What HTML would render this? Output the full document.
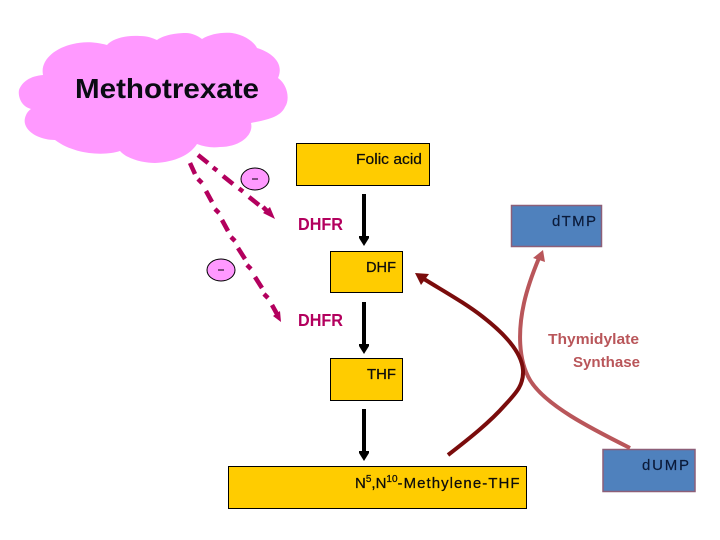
<!DOCTYPE html>
<html>
<head>
<meta charset="utf-8">
<style>
html,body{margin:0;padding:0;background:#fff;width:720px;height:540px;overflow:hidden}
svg{display:block}
text{font-family:"Liberation Sans",sans-serif}
</style>
</head>
<body>
<svg width="720" height="540" viewBox="0 0 720 540" xmlns="http://www.w3.org/2000/svg">
<path fill="#ff99ff" d="M43,75 C40,60 55,48 73,44 C82,42 92,41 107,45 C113,38 127,35 140,36 C148,36 152,38 157,40 C165,34 180,33 186,33 C192,33 198,36 202,39 C210,34 222,32 232,33 C245,35 254,42 257,48 C270,52 285,62 278,78 C288,85 290,100 285,107 C280,118 265,120 251,123 C254,135 240,147 220,147 C212,148 205,147 197,144 C190,155 175,162 155,163 C145,163 128,160 120,151 C105,156 75,155 55,140 C38,140 22,130 25,118 C26,114 28,111 31,109 C20,106 18,95 19,90 C22,82 30,76 43,75 Z"/>
<text x="75" y="98" font-size="27.5" font-weight="bold" textLength="184" lengthAdjust="spacingAndGlyphs" fill="#0b0b14">Methotrexate</text>

<g fill="#ffcc00" stroke="#000" stroke-width="1">
<rect x="296.5" y="143.5" width="133" height="42"/>
<rect x="330.5" y="251.5" width="72" height="41"/>
<rect x="330.5" y="358.5" width="72" height="42"/>
<rect x="228.5" y="466.5" width="298" height="42"/>
</g>
<g fill="#4f81bd" stroke="#8c5f78" stroke-width="1.5">
<rect x="511.5" y="205.5" width="90" height="41"/>
<rect x="603" y="449.5" width="92" height="42"/>
</g>

<g fill="#0d0d0d" font-size="15" stroke="#0d0d0d" stroke-width=".25">
<text x="356" y="164" textLength="66" lengthAdjust="spacingAndGlyphs">Folic acid</text>
<text x="366" y="272" textLength="30" lengthAdjust="spacingAndGlyphs">DHF</text>
<text x="367" y="379" textLength="29" lengthAdjust="spacingAndGlyphs">THF</text>
<text x="355" y="488">N<tspan font-size="10" dy="-6">5</tspan><tspan dy="6">,N</tspan><tspan font-size="10" dy="-6">10</tspan><tspan dy="6" textLength="122" lengthAdjust="spacing">-Methylene-THF</tspan></text>
</g>
<g fill="#0b1b3a" font-size="15" stroke="#0b1b3a" stroke-width=".2">
<text x="552" y="226" textLength="44" lengthAdjust="spacing">dTMP</text>
<text x="642" y="470" textLength="47" lengthAdjust="spacing">dUMP</text>
</g>

<g fill="#b3005e" font-size="17.5" font-weight="bold">
<text x="298" y="230" textLength="45" lengthAdjust="spacingAndGlyphs">DHFR</text>
<text x="298" y="326" textLength="45" lengthAdjust="spacingAndGlyphs">DHFR</text>
</g>

<g fill="#b9565a" font-size="14.5" font-weight="bold">
<text x="548" y="344" textLength="91" lengthAdjust="spacingAndGlyphs">Thymidylate</text>
<text x="573" y="367" textLength="67" lengthAdjust="spacingAndGlyphs">Synthase</text>
</g>

<g stroke="#000" stroke-width="4" fill="none">
<line x1="364" y1="194" x2="364" y2="237"/>
<line x1="364" y1="302" x2="364" y2="345"/>
<line x1="364" y1="409" x2="364" y2="452"/>
</g>
<g fill="#000">
<polygon points="359,236 369,236 369,238 364,246 359,238"/>
<polygon points="359,344 369,344 369,346 364,354 359,346"/>
<polygon points="359,451 369,451 369,453 364,461 359,453"/>
</g>

<g stroke="#b3005e" stroke-width="4.5" fill="none" stroke-linecap="butt">
<line x1="198" y1="155" x2="208" y2="163"/>
<line x1="213" y1="167.5" x2="217" y2="170.5"/>
<line x1="223" y1="176" x2="233" y2="184"/>
<line x1="239" y1="188.5" x2="243" y2="191.500"/>
<line x1="249" y1="197" x2="259" y2="205"/>
<line x1="263" y1="207" x2="268" y2="212"/>
<line x1="190" y1="163" x2="195" y2="174"/>
<line x1="198" y1="179" x2="202" y2="183"/>
<line x1="206" y1="191" x2="212" y2="202"/>
<line x1="215" y1="209" x2="219" y2="213"/>
<line x1="222" y1="220" x2="228" y2="231"/>
<line x1="231" y1="237" x2="235" y2="241"/>
<line x1="238" y1="248" x2="245" y2="259"/>
<line x1="247" y1="265" x2="251" y2="269"/>
<line x1="255" y1="277" x2="262" y2="288"/>
<line x1="264" y1="294" x2="268" y2="298"/>
<line x1="272" y1="305" x2="277" y2="314"/>
</g>
<polygon fill="#b3005e" points="263,213 270,207 275,219"/>
<polygon fill="#b3005e" points="273,316 280,311 281,322"/>

<ellipse cx="255" cy="179" rx="14" ry="11" fill="#ff99ff" stroke="#000" stroke-width="1"/>
<ellipse cx="221" cy="270" rx="14" ry="11" fill="#ff99ff" stroke="#000" stroke-width="1"/>
<line x1="252" y1="179" x2="258" y2="179" stroke="#000" stroke-width="1"/>
<line x1="218" y1="270" x2="224" y2="270" stroke="#000" stroke-width="1"/>

<path d="M630,448 C590,428 545,405 530,380 C518,360 518,330 524,303 C528,285 534,270 539,258" stroke="#b9565a" stroke-width="4" fill="none"/>
<polygon fill="#b9565a" points="543,250 545,262 533,258"/>

<path d="M448,455 C470,438 490,422 505,405 C516,393 524,385 523,370 C522,355 510,338 483,317 C465,303 445,292 424,279" stroke="#7a0c0c" stroke-width="4" fill="none"/>
<polygon fill="#7a0c0c" points="415,273 429,274 421,285"/>
</svg>
</body>
</html>
